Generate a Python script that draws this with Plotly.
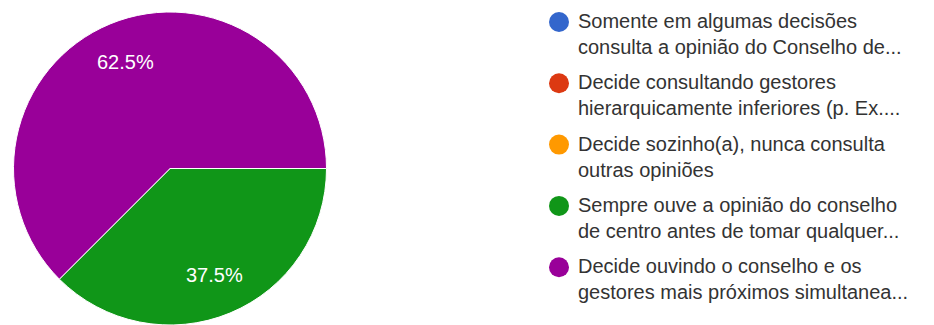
import math
import plotly.graph_objects as go

# ---- data ----
categories = [
    "Somente em algumas decisões\nconsulta a opinião do Conselho de...",
    "Decide consultando gestores\nhierarquicamente inferiores (p. Ex....",
    "Decide sozinho(a), nunca consulta\noutras opiniões",
    "Sempre ouve a opinião do conselho\nde centro antes de tomar qualquer...",
    "Decide ouvindo o conselho e os\ngestores mais próximos simultanea...",
]
counts = [0, 0, 0, 3, 5]
colors = ["#3366cc", "#dc3912", "#ff9900", "#109618", "#990099"]

W, H = 934, 325
FONT = "Liberation Sans, Arial, sans-serif"


def px(x):
    return x / W


def py(y):
    return 1 - y / H


# pie placement (pixels)
pie_left, pie_right, pie_top, pie_bottom = 11, 329, 12, 325
start_angle = 90  # degrees clockwise from 12 o'clock

fig = go.Figure(
    go.Pie(
        labels=[c.replace("\n", " ") for c in categories],
        values=counts,
        sort=False,
        direction="clockwise",
        rotation=start_angle,
        marker=dict(colors=colors, line=dict(color="white", width=1)),
        textinfo="none",
        domain=dict(x=[px(pie_left), px(pie_right)], y=[py(pie_bottom), py(pie_top)]),
        showlegend=False,
        hoverinfo="label+percent",
    )
)

annotations = []

# percentage labels placed along each slice bisector
cx = (pie_left + pie_right) / 2
r = min(pie_right - pie_left, pie_bottom - pie_top) / 2
cy = (pie_top + pie_bottom) / 2
total = sum(counts)
cum = 0
for v in counts:
    if v > 0:
        mid = math.radians(start_angle + 360 * (cum + v / 2) / total)
        lx = cx + 0.74 * r * math.sin(mid)
        ly = cy - 0.74 * r * math.cos(mid)
        annotations.append(dict(
            xref="paper", yref="paper", x=px(lx), y=py(ly),
            xanchor="center", yanchor="middle", showarrow=False,
            text=f"{100 * v / total:.1f}%",
            font=dict(size=20, color="white", family=FONT),
        ))
    cum += v

# ---- legend drawn as shapes + text ----
shapes = []
marker_x = 559
marker_r = 10
text_x = 576
first_y = 22
step = 61.3
for i, (cat, col) in enumerate(zip(categories, colors)):
    yc = first_y + step * i
    shapes.append(dict(
        type="circle", xref="paper", yref="paper",
        x0=px(marker_x - marker_r), x1=px(marker_x + marker_r),
        y0=py(yc + marker_r), y1=py(yc - marker_r),
        fillcolor=col, line=dict(width=0),
    ))
    annotations.append(dict(
        xref="paper", yref="paper", x=px(text_x), y=py(yc + 12),
        xanchor="left", yanchor="middle", align="left",
        text=cat.replace("\n", "<br>"), showarrow=False,
        font=dict(size=20, color="#333333", family=FONT),
    ))

fig.update_layout(
    width=W, height=H,
    margin=dict(l=0, r=0, t=0, b=0),
    paper_bgcolor="white",
    plot_bgcolor="white",
    shapes=shapes,
    annotations=annotations,
    font=dict(family=FONT),
)

fig.write_html(
    "out.html",
    config={"displayModeBar": False},
    post_script="document.body.style.margin='0';document.body.style.overflow='hidden';",
)
